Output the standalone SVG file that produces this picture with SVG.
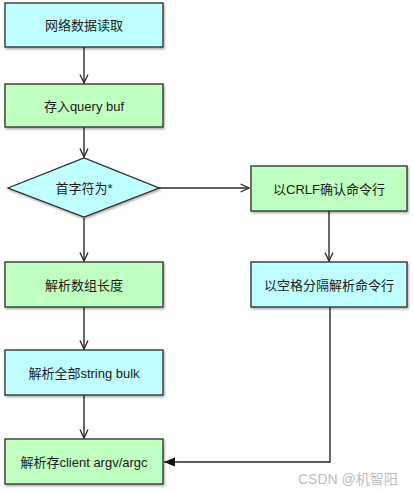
<svg xmlns="http://www.w3.org/2000/svg" width="413" height="493" viewBox="0 0 413 493">
<style>
.box{stroke:#2a2a2a;stroke-width:1.3;filter:url(#sh)}
.cy{fill:#bfffff}
.gr{fill:#bfffc0}
.t{font-family:"Liberation Sans","Noto Sans CJK SC",sans-serif;font-size:13px;fill:#1a1a1a;text-anchor:middle;dominant-baseline:central}
.c{fill:none;stroke:#2a2a2a;stroke-width:1.4}
</style>
<defs>
<filter id="sh" x="-10%" y="-20%" width="125%" height="150%">
<feDropShadow dx="1" dy="1.5" stdDeviation="1" flood-color="#000" flood-opacity="0.35"/>
</filter>
<marker id="v" viewBox="0 0 10 10" refX="9.5" refY="5" markerWidth="10" markerHeight="10" markerUnits="userSpaceOnUse" orient="auto">
<path d="M1,1 L9.5,5 L1,9" fill="none" stroke="#2a2a2a" stroke-width="1.3"/>
</marker>
<marker id="f" viewBox="0 0 12 10" refX="11" refY="5" markerWidth="12" markerHeight="10" markerUnits="userSpaceOnUse" orient="auto">
<path d="M0,0.5 L11,5 L0,9.5 Z" fill="#111"/>
</marker>
</defs>
<g id="connectors">
<path class="c" d="M84,47 V83" marker-end="url(#v)"/>
<path class="c" d="M84,127 V157" marker-end="url(#v)"/>
<path class="c" d="M159,188 H249" marker-end="url(#v)"/>
<path class="c" d="M84,218 V261" marker-end="url(#v)"/>
<path class="c" d="M329,211 V261" marker-end="url(#v)"/>
<path class="c" d="M84,307 V349" marker-end="url(#v)"/>
<path class="c" d="M84,395 V438" marker-end="url(#v)"/>
<path class="c" d="M330,307 V462 H164" marker-end="url(#f)"/>
</g>
<g id="n1"><rect class="box cy" x="5" y="3" width="158" height="44"/><text class="t" x="84" y="25">网络数据读取</text></g>
<g id="n2"><rect class="box gr" x="5" y="84" width="158" height="43"/><text class="t" x="84" y="106">存入query buf</text></g>
<g id="n3"><polygon class="box cy" points="8,188 84,158 159,188 84,217"/><text class="t" x="84" y="188">首字符为*</text></g>
<g id="n4"><rect class="box gr" x="251" y="166" width="156" height="45"/><text class="t" x="329" y="189">以CRLF确认命令行</text></g>
<g id="n5"><rect class="box gr" x="5" y="262" width="158" height="45"/><text class="t" x="84" y="285">解析数组长度</text></g>
<g id="n6"><rect class="box cy" x="251" y="262" width="156" height="45"/><text class="t" x="329" y="285">以空格分隔解析命令行</text></g>
<g id="n7"><rect class="box cy" x="5" y="350" width="158" height="45"/><text class="t" x="84" y="373">解析全部string bulk</text></g>
<g id="n8"><rect class="box gr" x="5" y="439" width="158" height="45"/><text class="t" x="84" y="462">解析存client argv/argc</text></g>
<text x="298" y="484" font-family="Liberation Sans,'Noto Sans CJK SC',sans-serif" font-size="14" fill="#bdbdbd">CSDN @机智阳</text>
</svg>
